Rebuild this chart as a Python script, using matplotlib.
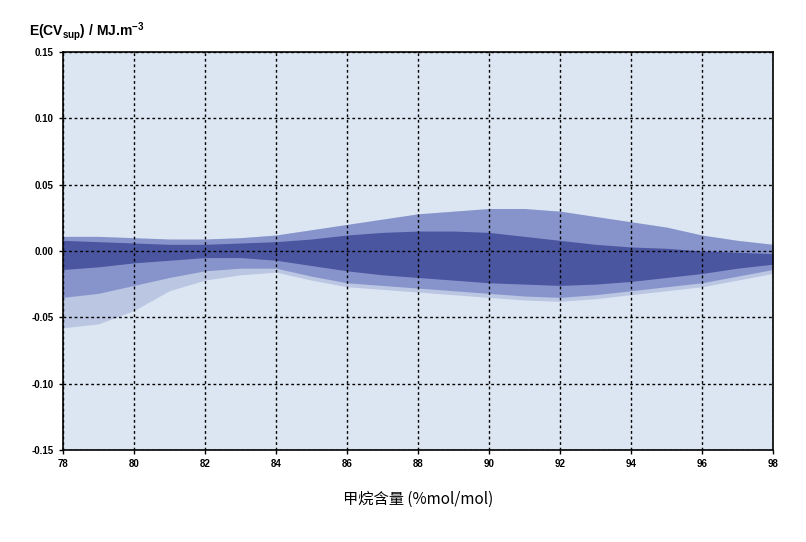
import matplotlib.pyplot as plt
import numpy as np

plt.rcParams['font.family'] = ['Liberation Sans', 'Noto Sans CJK SC', 'DejaVu Sans']

# envelope of the scatter cloud
x_pos = [78, 79, 80, 81, 82, 83, 84, 85, 86, 87, 88, 89, 90, 91, 92, 93, 94, 95, 96, 97, 98]
sparse_low = [-0.058, -0.055, -0.045, -0.030, -0.022, -0.018, -0.016, -0.022, -0.027, -0.029,
              -0.031, -0.033, -0.035, -0.037, -0.038, -0.036, -0.033, -0.030, -0.027, -0.022, -0.017]
outer_low = [-0.035, -0.032, -0.026, -0.020, -0.015, -0.013, -0.013, -0.019, -0.024, -0.026,
             -0.028, -0.030, -0.032, -0.034, -0.035, -0.033, -0.030, -0.027, -0.024, -0.019, -0.014]
outer_high = [0.011, 0.011, 0.010, 0.009, 0.009, 0.010, 0.012, 0.016, 0.020, 0.024,
              0.028, 0.030, 0.032, 0.032, 0.030, 0.026, 0.022, 0.018, 0.012, 0.008, 0.005]
core_low = [-0.014, -0.012, -0.009, -0.007, -0.005, -0.005, -0.007, -0.011, -0.015, -0.018,
            -0.020, -0.022, -0.024, -0.025, -0.026, -0.025, -0.023, -0.020, -0.017, -0.013, -0.010]
core_high = [0.008, 0.007, 0.006, 0.005, 0.005, 0.006, 0.007, 0.009, 0.012, 0.014,
             0.015, 0.015, 0.014, 0.011, 0.008, 0.005, 0.003, 0.002, 0.000, -0.001, -0.002]

fig = plt.figure(figsize=(8.06, 5.42), dpi=100)
ax = fig.add_axes([0.078, 0.170, 0.881, 0.734])
ax.set_facecolor('#dce6f2')

ax.fill_between(x_pos, sparse_low, outer_high, color='#3a4aa8', alpha=0.2, lw=0)
ax.fill_between(x_pos, outer_low, outer_high, color='#3a4aa8', alpha=0.4, lw=0)
ax.fill_between(x_pos, core_low, core_high, color='#1a237e', alpha=0.55, lw=0)

ax.set_xlim(78, 98)
ax.set_ylim(-0.15, 0.15)
ax.set_xticks(np.arange(78, 99, 2))
ax.set_yticks(np.arange(-0.15, 0.151, 0.05))
ax.set_yticklabels(['%.2f' % v for v in np.arange(-0.15, 0.151, 0.05)])
ax.tick_params(labelsize=7, length=3, width=1)
for lab in ax.get_xticklabels() + ax.get_yticklabels():
    lab.set_fontweight('bold')
ax.grid(True, color='black', linestyle=(0, (2, 2)), linewidth=1)
for s in ax.spines.values():
    s.set_linewidth(1.2)

ax.set_xlabel('甲烷含量 (%mol/mol)', fontsize=11, labelpad=16,
              family=['Noto Sans CJK SC', 'DejaVu Sans'])
fig.text(0.036, 0.935, r'E(CV$_{\mathregular{sup}}$) / MJ.m$^{\mathregular{-3}}$',
         fontsize=10, fontweight='bold')

fig.savefig('out.png', dpi=100)
